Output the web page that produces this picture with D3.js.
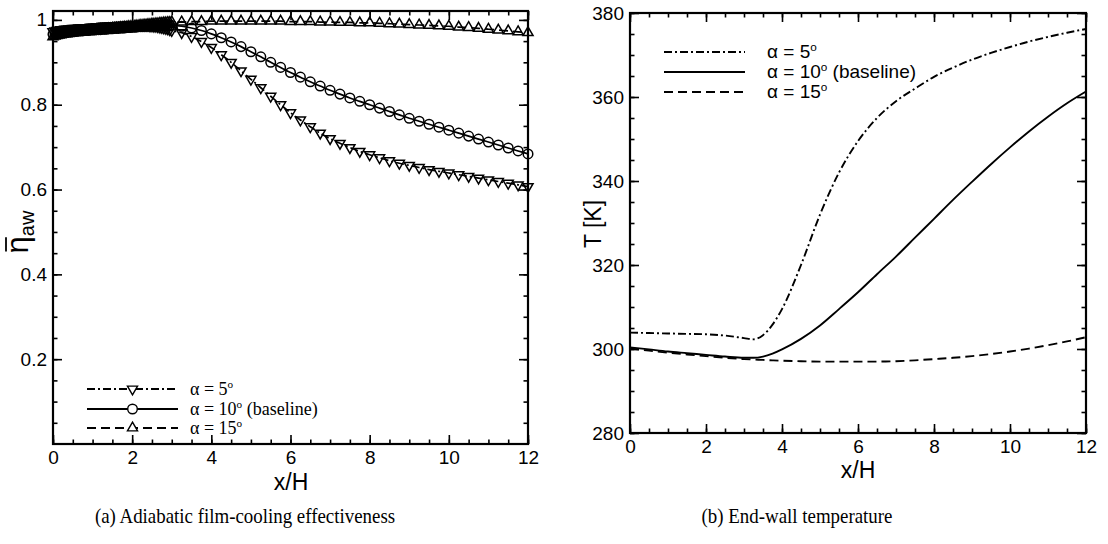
<!DOCTYPE html>
<html>
<head>
<meta charset="utf-8">
<script src="https://cdn.jsdelivr.net/npm/d3@7"></script>
<style>
body { margin: 0; background: #fff; }
svg { display: block; }
</style>
</head>
<body>
<script>
// (a) film-cooling effectiveness, x/H stations (dense near the slot exit)
var xsEta = [0, 0.05, 0.1, 0.15, 0.2, 0.25, 0.3, 0.35, 0.4, 0.45, 0.5,
    0.55, 0.6, 0.65, 0.7, 0.75, 0.8, 0.85, 0.9, 0.95, 1,
    1.05, 1.1, 1.15, 1.2, 1.25, 1.3, 1.35, 1.4, 1.45, 1.5,
    1.55, 1.6, 1.65, 1.7, 1.75, 1.8, 1.85, 1.9, 1.95, 2,
    2.05, 2.1, 2.15, 2.2, 2.25, 2.3, 2.35, 2.4, 2.45, 2.5,
    2.55, 2.6, 2.65, 2.7, 2.75, 2.8, 2.85, 2.9, 2.95, 3,
    3.25, 3.5, 3.75, 4, 4.25, 4.5, 4.75, 5, 5.25, 5.5, 5.75, 6, 6.25, 6.5, 6.75, 7,
    7.25, 7.5, 7.75, 8, 8.25, 8.5, 8.75, 9, 9.25, 9.5, 9.75, 10, 10.25, 10.5, 10.75, 11,
    11.25, 11.5, 11.75, 12];
var eta5 = [0.972, 0.974, 0.975, 0.976, 0.977, 0.977, 0.978, 0.978, 0.979, 0.979, 0.980,
    0.980, 0.980, 0.981, 0.981, 0.981, 0.982, 0.982, 0.982, 0.983, 0.983,
    0.983, 0.984, 0.984, 0.984, 0.985, 0.985, 0.985, 0.985, 0.986, 0.986,
    0.986, 0.986, 0.987, 0.987, 0.987, 0.987, 0.987, 0.988, 0.988, 0.988,
    0.988, 0.988, 0.988, 0.988, 0.988, 0.987, 0.987, 0.987, 0.986, 0.986,
    0.985, 0.985, 0.984, 0.983, 0.982, 0.981, 0.980, 0.979, 0.977, 0.975,
    0.970, 0.961, 0.949, 0.935, 0.918, 0.900, 0.880, 0.860, 0.840, 0.820, 0.800, 0.781,
    0.764, 0.748, 0.733, 0.720, 0.709, 0.699, 0.690, 0.682, 0.675, 0.668, 0.662, 0.657,
    0.652, 0.647, 0.643, 0.639, 0.635, 0.631, 0.627, 0.623, 0.619, 0.615, 0.611, 0.607];
var eta10 = [0.966, 0.967, 0.968, 0.969, 0.970, 0.970, 0.971, 0.971, 0.972, 0.972, 0.973,
    0.973, 0.973, 0.974, 0.974, 0.974, 0.975, 0.975, 0.975, 0.976, 0.976,
    0.976, 0.977, 0.977, 0.977, 0.978, 0.978, 0.978, 0.979, 0.979, 0.979,
    0.980, 0.980, 0.980, 0.981, 0.981, 0.981, 0.982, 0.982, 0.982, 0.983,
    0.983, 0.983, 0.984, 0.984, 0.984, 0.985, 0.985, 0.985, 0.986, 0.986,
    0.986, 0.986, 0.987, 0.987, 0.987, 0.987, 0.987, 0.987, 0.987, 0.987,
    0.985, 0.981, 0.975, 0.967, 0.958, 0.948, 0.937, 0.925, 0.913, 0.900, 0.888, 0.876,
    0.865, 0.854, 0.844, 0.834, 0.825, 0.816, 0.808, 0.800, 0.792, 0.784, 0.776, 0.768,
    0.761, 0.754, 0.747, 0.740, 0.733, 0.726, 0.719, 0.712, 0.705, 0.698, 0.691, 0.684];
var eta15 = [0.960, 0.962, 0.963, 0.964, 0.965, 0.966, 0.967, 0.967, 0.968, 0.969, 0.970,
    0.970, 0.971, 0.971, 0.972, 0.972, 0.973, 0.973, 0.974, 0.974, 0.975,
    0.975, 0.976, 0.976, 0.977, 0.977, 0.978, 0.978, 0.979, 0.979, 0.980,
    0.980, 0.981, 0.981, 0.982, 0.982, 0.983, 0.983, 0.984, 0.984, 0.985,
    0.985, 0.986, 0.986, 0.987, 0.987, 0.988, 0.988, 0.989, 0.989, 0.990,
    0.990, 0.991, 0.991, 0.992, 0.992, 0.993, 0.993, 0.994, 0.994, 0.995,
    0.995, 0.996, 0.996, 0.997, 0.997, 0.997, 0.997, 0.997, 0.997, 0.997, 0.997, 0.996,
    0.996, 0.996, 0.995, 0.995, 0.994, 0.994, 0.993, 0.993, 0.992, 0.991, 0.990, 0.989,
    0.988, 0.987, 0.986, 0.985, 0.983, 0.982, 0.980, 0.978, 0.976, 0.974, 0.972, 0.970];

// (b) end-wall temperature [K]
var xsTemp = [0, 0.5, 1, 1.5, 2, 2.5, 3, 3.25, 3.5, 3.75, 4, 4.5, 5, 5.5, 6, 6.5, 7,
    7.5, 8, 8.5, 9, 9.5, 10, 10.5, 11, 11.5, 12];
var temp5 = [303.9, 303.8, 303.7, 303.6, 303.5, 303.2, 302.6, 302.3, 303.3, 305.8, 309.5,
    320, 332, 342, 349.5, 355, 359, 362, 364.8, 367, 368.9, 370.5, 371.9, 373.2,
    374.3, 375.3, 376.2];
var temp10 = [300.4, 299.9, 299.4, 299.0, 298.6, 298.2, 297.9, 297.9, 298.2, 298.9, 299.9,
    302.4, 305.6, 309.5, 313.5, 317.8, 322, 326.5, 331, 335.5, 339.8, 344, 348, 351.8,
    355.3, 358.5, 361.3];
var temp15 = [300.1, 299.6, 299.1, 298.7, 298.3, 297.9, 297.6, 297.5, 297.4, 297.3, 297.2,
    297.1, 297.0, 297.0, 297.0, 297.0, 297.1, 297.3, 297.6, 297.9, 298.3, 298.8, 299.4,
    300.1, 300.9, 301.8, 302.8];

var xTicks = [0, 2, 4, 6, 8, 10, 12];
var etaTicks = [0.2, 0.4, 0.6, 0.8, 1];
var etaTickLabels = ['0.2', '0.4', '0.6', '0.8', '1'];
var tempTicks = [280, 300, 320, 340, 360, 380];
var legendNames = ['5', '10', '15'];

var svg;
var sans = 'Liberation Sans, Arial, sans-serif';
var serif = 'Liberation Serif, Times New Roman, serif';
var dashes = { '5': '8,3,2,3', '10': null, '15': '9,5' };

window.document.addEventListener('DOMContentLoaded', init, false);

function init() {
    svg = createCanvas();

    // panel (a)
    var xa = d3.scaleLinear().domain([0, 12]).range([53, 528]);
    var ya = d3.scaleLinear().domain([0, 1.021]).range([444, 11]);
    drawFrame(xa, ya, etaTicks, d3.range(0.05, 1.02, 0.05), function (d) {
        return etaTickLabels[etaTicks.indexOf(d)];
    });
    drawSeries(xa, ya, xsEta, eta5, '5', true);
    drawSeries(xa, ya, xsEta, eta10, '10', true);
    drawSeries(xa, ya, xsEta, eta15, '15', true);
    drawEtaLabel();
    drawXLabel(291, 490);
    drawLegend(87, 178, 190, [389, 409, 428], serif, 18, true);
    drawCaption(245, 523, '(a) Adiabatic film-cooling effectiveness');

    // panel (b)
    var xb = d3.scaleLinear().domain([0, 12]).range([630, 1086]);
    var yb = d3.scaleLinear().domain([280, 380]).range([433, 13]);
    drawFrame(xb, yb, tempTicks, d3.range(280, 381, 5), d3.format('d'));
    drawSeries(xb, yb, xsTemp, temp5, '5', false);
    drawSeries(xb, yb, xsTemp, temp10, '10', false);
    drawSeries(xb, yb, xsTemp, temp15, '15', false);
    svg.append('text')
        .attr('transform', 'translate(601,224) rotate(-90)')
        .attr('text-anchor', 'middle')
        .attr('font-family', sans)
        .attr('font-size', 23)
        .text('T [K]');
    drawXLabel(858, 478);
    drawLegend(664, 745, 767, [52, 72, 92], sans, 19, false);
    drawCaption(797, 523, '(b) End-wall temperature');
}

function createCanvas() {
    return d3.select('body')
        .append('svg')
        .attr('width', 1108)
        .attr('height', 544);
}

function drawFrame(x, y, yTicks, yMinor, yFormat) {
    var x0 = x.range()[0], x1 = x.range()[1];
    var y0 = y.range()[0], y1 = y.range()[1];
    var xMinor = d3.range(0, 12.01, 0.5);

    var g = svg.append('g');
    // inward ticks on all four sides
    var axes = [
        [d3.axisBottom(x), 'translate(0,' + y0 + ')', xTicks, xMinor, d3.format('d'), 7],
        [d3.axisTop(x), 'translate(0,' + y1 + ')', xTicks, xMinor, null, 4],
        [d3.axisLeft(y), 'translate(' + x0 + ',0)', yTicks, yMinor, yFormat, 6],
        [d3.axisRight(y), 'translate(' + x1 + ',0)', yTicks, yMinor, null, 4]
    ];
    axes.forEach(function (a) {
        g.append('g')
            .attr('transform', a[1])
            .call(a[0].tickValues(a[3]).tickSize(-4.5).tickFormat(''));
        var major = g.append('g')
            .attr('transform', a[1])
            .call(a[0].tickValues(a[2]).tickSize(-9).tickPadding(a[5])
                .tickFormat(a[4] ? a[4] : ''));
        major.selectAll('text')
            .attr('font-family', sans)
            .attr('font-size', 19)
            .attr('fill', '#000');
    });
    g.selectAll('.domain').remove();
    g.selectAll('.tick line').attr('stroke', '#000').attr('stroke-width', 1.6);

    g.append('rect')
        .attr('x', x0)
        .attr('y', y1)
        .attr('width', x1 - x0)
        .attr('height', y0 - y1)
        .attr('fill', 'none')
        .attr('stroke', '#000')
        .attr('stroke-width', 2.2);
}

function drawSeries(x, y, xs, values, name, withMarkers) {
    var pts = xs.map(function (d, i) { return [d, values[i]]; });
    var line = d3.line()
        .x(function (d) { return x(d[0]); })
        .y(function (d) { return y(d[1]); })
        .curve(d3.curveMonotoneX);

    svg.append('path')
        .datum(pts)
        .attr('d', line)
        .attr('fill', 'none')
        .attr('stroke', '#000')
        .attr('stroke-width', withMarkers ? 1.7 : 1.9)
        .attr('stroke-dasharray', dashes[name]);

    if (withMarkers) {
        svg.append('g').selectAll('path')
            .data(pts)
            .enter()
            .append('path')
            .attr('d', marker(name))
            .attr('transform', function (d) {
                return 'translate(' + x(d[0]) + ',' + y(d[1]) + ')' +
                    (name === '5' ? ' rotate(180)' : '');
            })
            .attr('fill', 'none')
            .attr('stroke', '#000')
            .attr('stroke-width', 1.5);
    }
}

function marker(name) {
    if (name === '10') {
        return d3.symbol().type(d3.symbolCircle).size(72)();
    }
    return d3.symbol().type(d3.symbolTriangle).size(44)();
}

function drawLegend(lx0, lx1, tx, rows, font, size, withMarkers) {
    legendNames.forEach(function (name, i) {
        var yy = rows[i];
        svg.append('line')
            .attr('x1', lx0)
            .attr('x2', lx1)
            .attr('y1', yy)
            .attr('y2', yy)
            .attr('stroke', '#000')
            .attr('stroke-width', 2)
            .attr('stroke-dasharray', dashes[name]);
        if (withMarkers) {
            svg.append('path')
                .attr('d', marker(name))
                .attr('transform', 'translate(' + ((lx0 + lx1) / 2) + ',' + yy + ')' +
                    (name === '5' ? ' rotate(180)' : ''))
                .attr('fill', '#fff')
                .attr('stroke', '#000')
                .attr('stroke-width', 1.4);
        }
        var t = svg.append('text')
            .attr('x', tx)
            .attr('y', yy + 6)
            .attr('font-family', font)
            .attr('font-size', size);
        t.append('tspan').text('\u03b1 = ' + name);
        t.append('tspan').attr('font-size', size * 0.62).attr('dy', -7).text('o');
        if (name === '10') {
            t.append('tspan').attr('dy', 7).text(' (baseline)');
        }
    });
}

function drawEtaLabel() {
    var g = svg.append('g')
        .attr('transform', 'translate(28,232) rotate(-90)');
    var t = g.append('text')
        .attr('text-anchor', 'middle')
        .attr('font-family', sans);
    t.append('tspan')
        .attr('font-size', 31)
        .text('\u03b7');
    t.append('tspan')
        .attr('font-size', 20)
        .attr('dy', 6)
        .text('aw');
    // mean bar over eta
    var box = t.node().getExtentOfChar(0);
    g.append('line')
        .attr('x1', box.x + 2)
        .attr('x2', box.x + box.width - 1)
        .attr('y1', -22)
        .attr('y2', -22)
        .attr('stroke', '#000')
        .attr('stroke-width', 1.8);
}

function drawXLabel(cx, cy) {
    svg.append('text')
        .attr('x', cx)
        .attr('y', cy)
        .attr('text-anchor', 'middle')
        .attr('font-family', sans)
        .attr('font-size', 23)
        .text('x/H');
}

function drawCaption(cx, cy, label) {
    // slightly condensed serif caption
    svg.append('text')
        .attr('transform', 'translate(' + cx + ',' + cy + ') scale(0.9,1)')
        .attr('text-anchor', 'middle')
        .attr('font-family', serif)
        .attr('font-size', 21)
        .text(label);
}
</script>
</body>
</html>
